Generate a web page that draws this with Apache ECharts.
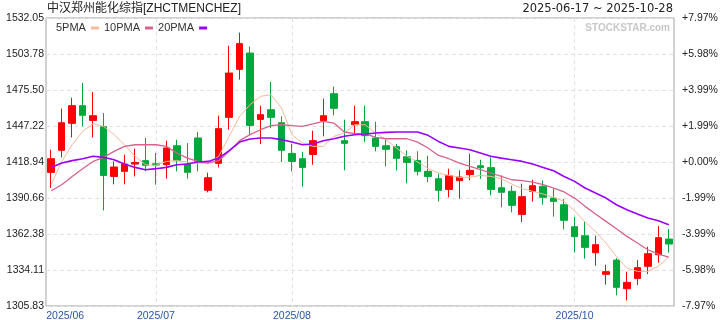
<!DOCTYPE html>
<html><head><meta charset="utf-8">
<script src="https://cdn.jsdelivr.net/npm/echarts@6/dist/echarts.min.js"></script>
<style>html,body{margin:0;padding:0;background:#fff}#c{width:720px;height:320px}</style>
</head><body><div id="c"></div>
<script>
const titleText = '中汉郑州能化综指[ZHCTMENCHEZ]';
const rangeText = '2025-06-17 ~ 2025-10-28';
const seriesNames = ['5PMA', '10PMA', '20PMA'];
const dates = [
 '2025-06-17','2025-06-18','2025-06-19','2025-06-20','2025-06-23','2025-06-24','2025-06-25','2025-06-26','2025-06-27','2025-06-30',
 '2025-07-01','2025-07-03','2025-07-07','2025-07-09','2025-07-11','2025-07-14','2025-07-16','2025-07-18','2025-07-21','2025-07-23','2025-07-25','2025-07-28','2025-07-30',
 '2025-08-01','2025-08-04','2025-08-06','2025-08-08','2025-08-11','2025-08-13','2025-08-15','2025-08-18','2025-08-20','2025-08-22','2025-08-25','2025-08-27','2025-08-28','2025-08-29',
 '2025-09-01','2025-09-03','2025-09-05','2025-09-08','2025-09-10','2025-09-12','2025-09-15','2025-09-17','2025-09-19','2025-09-22','2025-09-24','2025-09-26','2025-09-30',
 '2025-10-09','2025-10-10','2025-10-13','2025-10-15','2025-10-17','2025-10-20','2025-10-22','2025-10-24','2025-10-27','2025-10-28'
];
const opens = [1410.8,1428.1,1449.3,1463.2,1451.6,1446.7,1407.6,1411.6,1417.3,1420.0, 1417.5,1416.8,1431.7,1417.3,1437.8,1396.7,1417.9,1454.0,1491.7,1504.5, 1452.4,1460.0,1449.8,1425.7,1421.5,1424.9,1451.4,1472.6,1435.7,1448.2, 1450.6,1437.8,1431.7,1431.0,1423.1,1420.2,1411.6,1405.8,1397.4,1404.3, 1409.0,1416.0,1414.5,1398.7,1395.9,1377.8,1395.9,1399.8,1390.6,1385.4, 1368.1,1361.0,1347.7,1330.7,1341.9,1319.4,1327.5,1337.0,1346.1,1358.4];
const closes = [1421.5,1449.8,1463.2,1455.6,1455.3,1408.4,1415.0,1417.3,1418.6,1416.3, 1416.5,1429.9,1420.0,1410.8,1419.4,1406.6,1445.1,1488.8,1511.9,1447.7, 1456.1,1454.0,1428.1,1419.4,1414.7,1435.7,1455.3,1461.1,1433.6,1450.6, 1439.6,1431.2,1428.9,1421.8,1418.6,1411.6,1407.6,1396.7,1408.2,1407.1, 1412.4,1414.5,1397.4,1395.1,1384.9,1391.7,1400.3,1391.2,1388.0,1373.1, 1360.3,1351.9,1354.0,1332.8,1320.5,1324.4,1335.9,1346.9,1359.5,1354.5];
const lows = [1398.5,1422.6,1438.3,1446.9,1438.3,1380.9,1401.4,1401.4,1407.6,1411.6, 1401.1,1405.8,1411.6,1405.8,1411.6,1395.1,1414.7,1444.3,1483.6,1440.4, 1433.0,1445.6,1418.9,1411.6,1399.5,1416.8,1439.1,1455.6,1412.4,1440.4, 1434.6,1427.3,1415.5,1412.4,1402.2,1408.4,1403.0,1388.0,1391.2,1390.1, 1404.5,1405.8,1392.7,1383.3,1379.4,1371.8,1388.0,1385.4,1376.0,1366.0, 1347.9,1343.0,1337.7,1322.6,1314.2,1310.2,1322.3,1330.9,1339.8,1347.7];
const highs = [1428.6,1460.8,1469.4,1481.0,1473.9,1457.4,1419.4,1424.7,1429.4,1437.8, 1426.0,1435.7,1436.4,1433.8,1442.5,1410.5,1455.3,1510.3,1520.5,1509.5, 1463.2,1481.8,1454.8,1433.3,1427.0,1443.5,1468.7,1478.1,1452.2,1463.2, 1463.2,1450.6,1437.8,1433.1,1428.1,1427.3,1423.9,1409.7,1413.7,1412.4, 1425.5,1420.7,1422.6,1408.4,1400.3,1401.9,1405.0,1404.3,1398.0,1390.1, 1375.7,1372.0,1361.0,1338.3,1343.5,1332.8,1341.9,1352.4,1368.6,1366.3];
const ma5 = [1401.1,1419.4,1432.5,1443.0,1449.0,1446.9,1440.4,1432.5,1423.4,1416.8, 1416.3,1419.4,1420.0,1418.9,1418.1,1418.1,1423.4,1439.1,1454.8,1464.0, 1470.5,1471.8,1461.3,1440.4,1433.8,1431.2,1431.2,1439.1,1441.7,1448.2, 1448.2,1441.7,1436.4,1429.9,1423.4,1418.9,1413.7,1410.3,1408.4,1406.9, 1406.9,1408.4,1407.6,1405.8,1401.6,1398.0,1395.9,1393.8,1391.2,1388.0, 1380.7,1371.8,1364.4,1355.3,1344.8,1335.6,1333.0,1333.0,1337.0,1344.3];
const ma10 = [1396.4,1401.1,1407.6,1413.7,1419.4,1422.6,1427.3,1431.2,1432.5,1432.5, 1432.5,1431.2,1426.0,1422.0,1419.4,1418.1,1420.0,1427.3,1435.7,1440.4, 1444.3,1447.5,1448.2,1447.5,1446.9,1448.8,1450.9,1449.5,1442.5,1441.2, 1441.2,1438.3,1437.2,1437.2,1437.2,1434.6,1429.9,1424.1,1421.5,1418.1, 1415.5,1412.9,1410.3,1407.6,1405.0,1404.3,1403.2,1401.1,1398.5,1395.4, 1390.6,1384.1,1378.1,1372.3,1366.5,1360.5,1355.3,1350.0,1346.6,1344.3];
const ma20 = [1414.7,1418.1,1420.0,1421.5,1423.4,1422.6,1420.7,1417.3,1414.7,1412.9, 1413.7,1414.7,1416.8,1417.3,1418.9,1419.4,1422.0,1427.8,1434.6,1437.0, 1437.8,1437.8,1436.5,1434.6,1432.5,1433.1,1435.7,1437.2,1439.1,1440.4, 1440.9,1441.7,1442.2,1442.5,1442.5,1442.5,1439.9,1435.1,1431.2,1429.9, 1428.6,1426.0,1423.4,1422.0,1420.7,1419.4,1417.3,1414.7,1412.1,1407.6, 1403.7,1398.5,1394.6,1390.6,1385.4,1381.5,1378.1,1374.9,1372.8,1369.7];
const priceTicks = [1305.83, 1334.11, 1362.38, 1390.66, 1418.94, 1447.22, 1475.50, 1503.78, 1532.05];
const basePrice = 1418.94;
const monthLabels = ['2025/06', '2025/07', '2025/08', '2025/10'];

const monthOf = d => d.slice(0, 4) + '/' + d.slice(5, 7);
function isMonthTick(i) {
  const m = monthOf(dates[i]);
  if (i > 0 && monthOf(dates[i - 1]) === m) return false;
  return monthLabels.indexOf(m) >= 0;
}
const FONT = '"Liberation Sans", Arial, "Noto Sans CJK SC", sans-serif';
const gridLine = { color: '#e2e2e2', width: 1, type: [4, 3] };

const candleData = opens.map((o, i) => [o, closes[i], lows[i], highs[i]]);
const chart = echarts.init(document.getElementById('c'), null, { renderer: 'canvas' });
chart.setOption({
  animation: false,
  backgroundColor: '#fff',
  textStyle: { fontFamily: FONT },
  title: [
    { text: titleText, left: 47, top: 3, padding: 0, textStyle: { fontSize: 12, fontWeight: 'normal', color: '#222', fontFamily: FONT } },
    { text: rangeText, right: 47, top: 3.5, padding: 0, textStyle: { fontSize: 11.5, fontWeight: 'normal', color: '#222', fontFamily: '"DejaVu Sans", sans-serif' } }
  ],
  legend: {
    data: seriesNames, left: 56, top: 19, padding: 0, align: 'right', icon: 'rect',
    itemWidth: 8, itemHeight: 3, itemGap: 5,
    textStyle: { fontSize: 11, color: '#333', padding: [7, 0, 0, 0], lineHeight: 11, fontFamily: FONT }
  },
  graphic: [{
    type: 'text', right: 50, top: 23,
    style: { text: 'STOCKSTAR.com', font: 'bold 10px "Liberation Sans", Arial, sans-serif', fill: '#c8c8c8' }
  }],
  grid: { left: 46, right: 46, top: 18, bottom: 14, outerBoundsMode: 'none', containLabel: false, show: true, borderColor: '#a3a3a3', borderWidth: 1, backgroundColor: 'transparent' },
  xAxis: {
    type: 'category', data: dates, boundaryGap: true,
    axisLine: { show: false }, axisTick: { show: false },
    axisLabel: {
      interval: (i) => isMonthTick(i), margin: 5, fontSize: 10.5, color: '#2a57a3', fontFamily: FONT,
      formatter: (v, i) => i === 0 ? '{first|' + monthOf(v) + '}' : monthOf(v),
      rich: { first: { padding: [0, 0, 0, 28], fontSize: 10.5, color: '#2a57a3', fontFamily: FONT } }
    },
    splitLine: { show: true, alignWithLabel: true, interval: (i) => i > 0 && isMonthTick(i), lineStyle: gridLine }
  },
  yAxis: [
    {
      type: 'value', position: 'left', min: 1305.83, max: 1532.05, scale: true,
      axisLine: { show: false }, axisTick: { show: false, customValues: priceTicks },
      axisLabel: { customValues: priceTicks, formatter: v => v.toFixed(2), margin: 2, fontSize: 10.5, color: '#222', fontFamily: FONT },
      splitLine: { show: true, lineStyle: gridLine }
    },
    {
      type: 'value', position: 'right', min: 1305.83, max: 1532.05, scale: true,
      axisLine: { show: false }, axisTick: { show: false, customValues: priceTicks },
      axisLabel: {
        customValues: priceTicks, margin: 8, fontSize: 10.5, color: '#222', fontFamily: FONT,
        formatter: v => { const p = (v / basePrice - 1) * 100; return (p >= 0 ? '+' : '') + p.toFixed(2) + '%'; }
      },
      splitLine: { show: false }
    }
  ],
  series: [
    {
      type: 'candlestick', name: 'K', data: candleData, barWidth: 7, yAxisIndex: 0,
      itemStyle: { color: '#ff0000', color0: '#00a83c', borderColor: '#ff0000', borderColor0: '#00a83c', borderWidth: 1 }
    },
    { type: 'line', name: seriesNames[0], data: ma5, showSymbol: false, symbol: 'none', color: '#f6bb9c', lineStyle: { width: 1, color: '#f6bb9c' }, z: 5 },
    { type: 'line', name: seriesNames[1], data: ma10, showSymbol: false, symbol: 'none', color: '#d8628c', lineStyle: { width: 1.3, color: '#d8628c' }, z: 5 },
    { type: 'line', name: seriesNames[2], data: ma20, showSymbol: false, symbol: 'none', color: '#9a00ff', lineStyle: { width: 1.6, color: '#9a00ff' }, z: 5 }
  ]
});
</script>
</body></html>
